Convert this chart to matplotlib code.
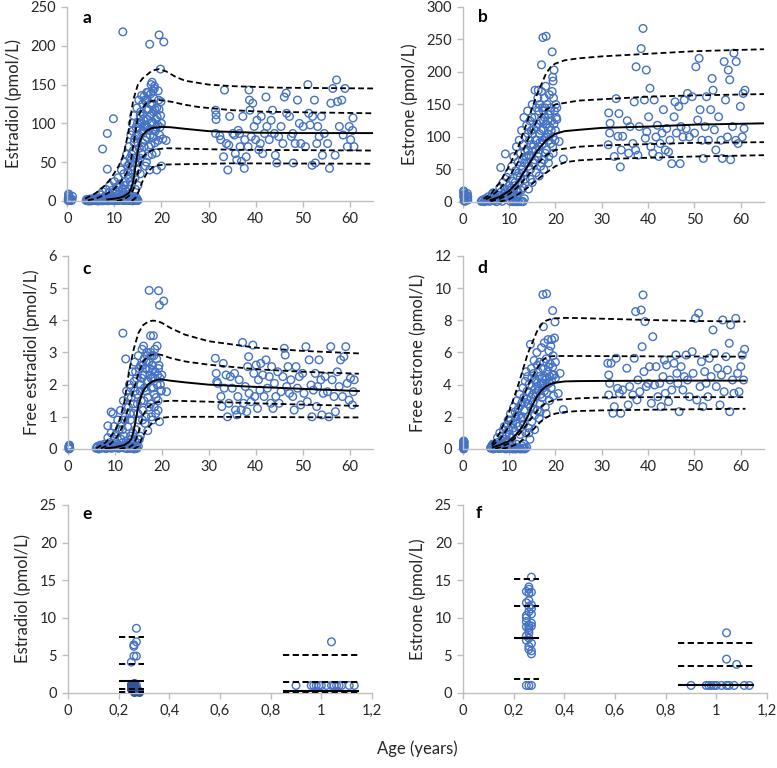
import matplotlib
matplotlib.use("Agg")
import matplotlib.pyplot as plt

plt.rcParams['font.family'] = ['Lato', 'DejaVu Sans']

BLUE = '#4472C4'
GREY = '#BFBFBF'
TXT = '#262626'

# ---------------- panel a: estradiol ----------------
a_inf = [(0.2, 3), (0.3, 8), (0.3, 6), (0.4, 1), (1.0, 2), (1.1, 6), (0.9, 0.5), (0.2, 0.5), (0.5, 4), (0.3, 9)]
a_pub = [(4.0, 0.5), (4.3, 1), (4.7, 0.3), (5.0, 1.5), (5.3, 0.5), (5.6, 2), (6.0, 1), (6.2, 0.3), (6.5, 2.5), (6.8, 1),
         (7.1, 0.5), (7.4, 3), (7.7, 1), (8.0, 2), (8.3, 0.5), (8.6, 4), (8.9, 1.5), (9.2, 3), (9.5, 0.8), (9.8, 5),
         (10.1, 2), (10.4, 0.5), (10.7, 3), (11.0, 1), (11.3, 6), (11.6, 2), (11.9, 0.5), (12.2, 4), (12.5, 1), (12.8, 3),
         (13.1, 0.5), (13.4, 2), (13.7, 1), (14.0, 0.5), (14.3, 3), (14.6, 1), (14.9, 0.5),
         (7, 8), (7.5, 12), (8, 6), (8.2, 15), (8.8, 10), (9, 20), (9.3, 8), (9.6, 14), (10, 25), (10.2, 12), (10.5, 18),
         (10.8, 30), (11, 8), (11.2, 22), (11.5, 40), (11.7, 15), (12, 35), (12.2, 50), (12.4, 25), (12.6, 60), (12.8, 45),
         (13, 30), (13.1, 70), (13.3, 55), (13.5, 85), (13.6, 40), (13.8, 100), (14, 65), (14.1, 110), (14.3, 80), (14.4, 30),
         (14.6, 95), (14.8, 120), (15, 75), (15.1, 50), (15.2, 130), (15.4, 100), (15.5, 35), (15.6, 115), (15.8, 88),
         (16, 125), (16, 60), (16.2, 105), (16.3, 135), (16.5, 78), (16.6, 45), (16.8, 118), (17, 95), (17, 130), (17.2, 140),
         (17.3, 70), (17.5, 110), (17.6, 85), (17.8, 150), (17.9, 100), (18, 125), (18, 60), (18.2, 92), (18.3, 115),
         (18.5, 145), (18.6, 75), (18.8, 105), (19, 120), (19, 40), (19.2, 98), (19.4, 130), (19.6, 85), (19.8, 110),
         (20, 100), (20.3, 80), (21, 78), (20, 45), (16.5, 130), (15.8, 136), (17.3, 118), (18.7, 90), (16.1, 90),
         (14.9, 100), (13.9, 90), (13, 15), (12, 10), (11, 18), (14.5, 15), (15, 20), (15.5, 55), (16.8, 50), (17.5, 40),
         (11.8, 218), (17.5, 202), (19.5, 214), (20.5, 205), (19.8, 170), (9.8, 106), (8.5, 87), (7.5, 67), (8.5, 41),
         (18.2, 142), (19.3, 142), (18, 153), (18.5, 148)]
a_pub2 = [(4.1, 2), (4.5, 0), (4.8, 2.5), (5.1, 0.2), (5.4, 3), (5.7, 0.8), (5.9, 2), (6.1, 4), (6.3, 1.2), (6.6, 0),
          (6.9, 3.5), (7.2, 1.5), (7.5, 0.2), (7.8, 4), (8.1, 1), (8.4, 2.8), (8.7, 0.3), (9, 5), (9.3, 1.8), (9.6, 3.5),
          (9.9, 0.3), (10.2, 6), (10.5, 2.5), (10.8, 0.8), (11.1, 4), (11.4, 1.5), (11.7, 8), (12, 2.5), (12.3, 0.8),
          (12.6, 5), (12.9, 1.5), (13.2, 9), (13.5, 4), (13.8, 0.3), (14.1, 6), (14.4, 1.5), (14.7, 4), (15, 1),
          (12.1, 20), (12.5, 12), (12.9, 38), (13.2, 48), (13.4, 25), (13.7, 60), (13.9, 35), (14.2, 75), (14.5, 55),
          (14.7, 85), (14.9, 40), (15.1, 95), (15.3, 68), (15.5, 110), (15.7, 62), (15.9, 100), (16.1, 112), (16.3, 70),
          (16.4, 95), (16.7, 128), (16.9, 82), (17.1, 105), (17.4, 92), (17.6, 125), (17.8, 72), (17.9, 112), (18.1, 102),
          (18.3, 82), (18.4, 132), (18.6, 118), (18.9, 95), (19.1, 108), (19.3, 78), (19.5, 118), (19.7, 95), (19.9, 128),
          (15.2, 85), (16.6, 98), (17.2, 58), (18.9, 62), (16, 75), (14.4, 50), (13.6, 20), (17.7, 138), (16.9, 140)]
a_adult = [(31.5, 117), (31.6, 111), (31.6, 105), (31.5, 87), (32.4, 84), (32.6, 79), (33.4, 143), (33.2, 57), (33.8, 74),
           (34.1, 40), (34.3, 72), (34.5, 109), (35.2, 87), (35.5, 85), (35.7, 61), (36, 53), (36.3, 91), (36.6, 87),
           (36.7, 70), (37, 51), (37.3, 109), (37.6, 42), (37.7, 79), (38, 57), (38.4, 70), (38.6, 143), (38.7, 130),
           (38.8, 117), (39.1, 83), (39.4, 126), (39.7, 96), (40, 79), (40.3, 104), (40.7, 66), (41, 74), (41.2, 109),
           (41.5, 61), (41.9, 87), (42.2, 134), (42.4, 96), (42.9, 79), (43.3, 104), (43.6, 117), (44, 87), (44.2, 59),
           (44.5, 49), (44.9, 83), (45.4, 96), (45.8, 74), (46.1, 134), (46.5, 139), (46.6, 113), (47.2, 109), (47.6, 83),
           (48, 49), (48.4, 74), (48.9, 130), (49.3, 100), (49.6, 74), (50.1, 96), (50.6, 70), (51.1, 150), (51.3, 113),
           (51.6, 98), (52, 46), (52.5, 130), (52.7, 49), (53, 74), (53.2, 96), (53.5, 83), (54, 109), (54.2, 59),
           (54.6, 87), (55.7, 42), (56, 126), (56.4, 145), (56.9, 59), (57.2, 156), (57.4, 128), (57.8, 96), (58.3, 130),
           (58.6, 85), (59, 145), (59.5, 70), (59.9, 96), (60.2, 79), (60.6, 91), (60.7, 107), (60.9, 70), (55.3, 74),
           (52.1, 109), (47.9, 87)]
a_p50 = ([8.5, 10, 11, 12, 13, 13.5, 14, 14.5, 15, 15.5, 16, 17, 18, 20, 22, 25, 30, 40, 50, 65],
         [2, 3, 4, 6, 10, 15, 25, 45, 65, 78, 85, 91, 94, 95.5, 95, 93, 90, 88, 87.5, 87.5])
a_p975 = ([3.8, 6, 8, 9, 10, 11, 12, 13, 14, 15, 16, 17, 18, 19.5, 21, 23, 25, 30, 35, 45, 65],
          [3, 10, 20, 27, 36, 46, 60, 90, 130, 150, 158, 163, 168, 170, 167, 160, 155, 150, 148, 146, 145])
a_p90 = ([4.4, 6, 8, 9.7, 11, 12.6, 13.5, 14, 14.5, 15, 16, 16.8, 18, 19.6, 22, 25, 28, 35, 42, 65],
         [1, 3, 8, 14, 22, 36, 52, 70, 90, 108, 120, 126, 129, 130, 128, 124, 121, 117, 115, 113])
a_p10 = ([10.5, 12, 13, 14, 14.5, 15, 15.5, 16.1, 17, 18.2, 21, 35, 65],
         [0, 2, 6, 14, 24, 36, 48, 57, 62, 66, 68, 66, 65])
a_p025 = ([13.7, 14.5, 15, 15.5, 16.1, 17, 18.2, 19, 21, 35, 65],
          [0, 4, 10, 18, 27, 37, 44, 46, 47, 48.5, 48])

# ---------------- panel b: estrone ----------------
b_inf = [(0.2, 15), (0.3, 12), (0.2, 8), (0.4, 5), (0.3, 2), (0.9, 10), (1.0, 6), (1.1, 3), (0.5, 1), (0.2, 17), (1.0, 13),
         (0.3, 10), (1.1, 8)]
b_pub = [(4.0, 1), (4.3, 3), (4.6, 0.5), (4.9, 5), (5.2, 2), (5.5, 8), (5.8, 1), (6.1, 4), (6.4, 12), (6.7, 2), (7.0, 6),
         (7.3, 0.5), (7.6, 10), (7.9, 3), (8.2, 15), (8.5, 1), (8.8, 7), (9.1, 20), (9.4, 4), (9.7, 12), (10.0, 25),
         (10.3, 1), (10.6, 9), (10.9, 0.5), (11.2, 2), (11.5, 0.5), (12.0, 1), (12.5, 0.5), (13.0, 0.5),
         (6.5, 14), (8.0, 22), (8.7, 30), (9.5, 38), (10, 45), (10.3, 18), (10.6, 55), (10.8, 32), (11, 70), (11.2, 25),
         (11.4, 48), (11.6, 85), (11.8, 40), (12, 62), (12.2, 95), (12.3, 30), (12.5, 75), (12.7, 110), (12.8, 50),
         (13, 88), (13.2, 130), (13.3, 60), (13.5, 100), (13.6, 42), (13.8, 118), (14, 80), (14, 140), (14.2, 55),
         (14.4, 95), (14.5, 125), (14.6, 35), (14.8, 70), (15, 150), (15, 105), (15.2, 60), (15.3, 88), (15.5, 130),
         (15.6, 172), (15.8, 45), (15.9, 115), (16, 95), (16.2, 160), (16.3, 75), (16.4, 140), (16.6, 105), (16.8, 55),
         (16.8, 125), (17, 170), (17.1, 88), (17.2, 145), (17.3, 112), (17.5, 65), (17.6, 160), (17.7, 130), (17.8, 98),
         (17.9, 178), (18, 120), (18.1, 80), (18.2, 150), (18.3, 105), (18.5, 135), (18.6, 70), (18.7, 165), (18.8, 115),
         (19, 90), (19, 145), (19.2, 125), (19.3, 170), (19.5, 100), (19.6, 160), (19.8, 140), (20, 110), (20.1, 150),
         (20.3, 145), (14.2, 20), (15, 30), (13, 22), (12, 15), (16.5, 40), (17.5, 50), (18.5, 60), (19.5, 75), (11, 12),
         (15.8, 80), (16.7, 92), (17.4, 140), (14.8, 110), (13.7, 70),
         (17.3, 253), (18.0, 255), (19.3, 231), (17.0, 211), (19.7, 203), (19.4, 192), (19.5, 186), (9.2, 74), (8.2, 53),
         (20.3, 127), (20.8, 93), (21.7, 66), (16.3, 172)]
b_pub2 = [(4.2, 2), (4.8, 1), (5.3, 4), (5.9, 3), (6.2, 7), (6.8, 9), (7.1, 3), (7.7, 5), (8.3, 9), (8.9, 13), (9.2, 8),
          (9.8, 18), (10.1, 10), (10.5, 22), (10.9, 15), (11.3, 30), (11.7, 20), (12.1, 45), (12.4, 38), (12.9, 65),
          (13.1, 45), (13.4, 78), (13.9, 60), (14.1, 105), (14.3, 72), (14.7, 88), (14.9, 130), (15.1, 78), (15.4, 112),
          (15.7, 95), (15.9, 145), (16.1, 120), (16.4, 85), (16.6, 150), (16.9, 110), (17.2, 95), (17.4, 125), (17.7, 145),
          (17.8, 75), (18.1, 100), (18.4, 125), (18.6, 95), (18.9, 140), (19.1, 110), (19.4, 85), (19.7, 120), (19.9, 95),
          (20.2, 130), (15.5, 65), (16.2, 70), (17, 60), (14.6, 50), (13.4, 35), (12.6, 18), (11.6, 8), (10.8, 3),
          (12.8, 1), (11.9, 0.5), (13.3, 5)]
b_adult = [(31.5, 137), (31.7, 106), (31.4, 88), (31.8, 121), (32.7, 70), (33.1, 159), (33.5, 101), (33.7, 136), (34, 54),
           (34.2, 80), (34.5, 101), (35.5, 125), (35.8, 75), (36.1, 116), (36.7, 90), (37, 154), (37.3, 80), (37.4, 208),
           (37.8, 72), (38.1, 116), (38.5, 236), (38.9, 267), (39.2, 157), (39.4, 98), (39.6, 203), (39.7, 108),
           (40.1, 131), (40.4, 175), (40.6, 85), (41, 75), (41.3, 157), (41.7, 100), (42, 118), (42.3, 70), (42.6, 90),
           (43, 106), (43.3, 142), (43.7, 80), (44, 113), (44.4, 77), (44.7, 95), (45.1, 59), (45.6, 131), (45.8, 154),
           (46.1, 106), (46.6, 147), (46.9, 59), (47.1, 116), (47.5, 100), (47.8, 157), (48.2, 113), (48.5, 167),
           (48.9, 100), (49.5, 162), (50, 106), (50.3, 208), (50.7, 126), (51, 221), (51.2, 142), (51.6, 95), (51.9, 67),
           (52.3, 116), (52.6, 162), (53, 95), (53.5, 142), (53.8, 190), (54, 172), (54.3, 111), (54.6, 80), (55.2, 131),
           (55.7, 95), (56, 67), (56.4, 216), (56.7, 157), (57.1, 100), (57.3, 203), (57.6, 188), (57.8, 65), (58.2, 116),
           (58.5, 229), (58.9, 95), (59, 216), (59.4, 90), (59.9, 147), (60.3, 100), (60.5, 167), (60.7, 113), (60.9, 172)]
b_p50 = ([6, 8, 10, 12, 14, 16, 18, 20, 22, 25, 30, 40, 50, 65],
         [3, 8, 17, 32, 55, 78, 95, 105, 109, 111, 114, 116, 119, 121])
b_p975 = ([4.5, 6, 8, 10, 12, 14, 16, 18, 19, 20, 22, 25, 30, 40, 50, 65],
          [5, 12, 30, 55, 85, 125, 165, 198, 208, 213, 218, 221, 224, 228, 232, 235])
b_p90 = ([5, 6, 8, 10, 12, 14, 16, 18, 20, 25, 30, 40, 50, 65],
         [4, 8, 20, 38, 62, 95, 125, 142, 150, 156, 158, 162, 164, 166])
b_p10 = ([6, 8, 10, 12, 14, 16, 18, 20, 25, 30, 40, 50, 65],
         [1, 5, 12, 24, 40, 58, 72, 80, 85, 87, 89, 91, 92])
b_p025 = ([8, 10, 12, 14, 16, 18, 20, 22, 25, 30, 40, 50, 65],
          [0.5, 4, 12, 22, 34, 45, 55, 61, 64, 66, 68, 70, 72])

# ---------------- panel c: free estradiol ----------------
c_inf = [(0.2, 0.05), (0.3, 0.1), (0.2, 0.0), (0.4, 0.02), (0.3, 0.12), (0.2, 0.08)]
c_pub = [(6.0, 0.02), (6.3, 0.08), (6.6, 0.0), (6.9, 0.12), (7.2, 0.03), (7.5, 0.06), (7.8, 0.15), (8.1, 0.01), (8.4, 0.1),
         (8.7, 0.04), (9.0, 0.2), (9.3, 0.02), (9.6, 0.08), (9.9, 0.3), (10.2, 0.05), (10.5, 0.15), (10.8, 0.02),
         (11.1, 0.1), (11.4, 0.05), (11.7, 0.2), (12.0, 0.03), (12.3, 0.12), (12.6, 0.01), (12.9, 0.06), (13.2, 0.02),
         (13.5, 0.1), (13.8, 0.03), (14.1, 0.0), (14.4, 0.05), (14.7, 0.02), (15.0, 0.08),
         (8.5, 0.35), (9.2, 0.5), (9.8, 0.7), (10.2, 0.45), (10.6, 0.9), (10.9, 0.6), (11.2, 1.2), (11.5, 0.8), (11.8, 1.5),
         (12, 0.4), (12.2, 1.0), (12.5, 1.8), (12.7, 0.7), (12.9, 1.3), (13.1, 2.0), (13.3, 0.9), (13.5, 1.6), (13.7, 2.4),
         (13.8, 0.5), (14, 1.1), (14.2, 2.7), (14.3, 1.8), (14.5, 0.6), (14.6, 2.2), (14.8, 1.4), (15, 2.9), (15.1, 0.9),
         (15.3, 2.0), (15.5, 2.6), (15.6, 1.5), (15.8, 3.1), (15.9, 2.3), (16, 1.2), (16.2, 2.8), (16.3, 1.9), (16.5, 2.5),
         (16.6, 1.0), (16.8, 3.0), (16.9, 2.1), (17, 1.6), (17.2, 2.7), (17.3, 1.3), (17.5, 2.3), (17.6, 3.0), (17.8, 1.9),
         (17.9, 2.6), (18, 0.9), (18.1, 2.2), (18.3, 2.9), (18.4, 1.7), (18.6, 2.4), (18.7, 1.1), (18.9, 2.8), (19, 2.0),
         (19.2, 1.5), (19.3, 2.5), (19.5, 0.85), (19.6, 2.2), (19.8, 1.8), (20, 2.3), (16.4, 0.8), (15.4, 0.4),
         (14.9, 0.3), (17.8, 1.0), (16.1, 3.2), (18.5, 3.1), (13.5, 0.3),
         (11.7, 3.6), (17.3, 4.93), (19.3, 4.92), (19.5, 4.47), (20.4, 4.6), (17.6, 3.52), (18.2, 3.52), (12.3, 2.8),
         (19.0, 3.2), (9.2, 1.15), (9.6, 1.1), (8.5, 0.72), (17.0, 0.57), (21, 1.78), (19.9, 1.82)]
c_pub2 = [(6.2, 0.05), (6.8, 0.02), (7.4, 0.1), (8, 0.05), (8.6, 0.15), (9.1, 0.05), (9.7, 0.12), (10.3, 0.2), (10.7, 0.05),
          (11.3, 0.3), (11.9, 0.1), (12.4, 0.25), (12.8, 0.1), (13.3, 0.4), (13.6, 0.15), (14.2, 0.25), (14.6, 0.1),
          (15.2, 0.3), (11.6, 0.6), (12.1, 0.9), (12.4, 1.3), (12.8, 1.6), (13.2, 1.1), (13.4, 1.9), (13.9, 1.4),
          (14.1, 2.1), (14.4, 2.4), (14.7, 1.7), (15.2, 2.5), (15.4, 1.8), (15.7, 2.2), (16, 2.6), (16.3, 2.3), (16.6, 1.8),
          (16.7, 2.7), (17.1, 2.1), (17.4, 2.5), (17.7, 2.2), (18, 2.6), (18.2, 1.9), (18.5, 2.2), (18.8, 1.6), (19.1, 2.3),
          (19.4, 2.6), (19.7, 2.0), (16.2, 1.5), (17.6, 1.4), (18.4, 1.3), (15.9, 0.9), (14.9, 1.1), (19.2, 1.2),
          (16.9, 2.9), (17.9, 2.9), (18.1, 2.45), (15.5, 2.0)]
c_adult = [(31.4, 2.82), (31.6, 2.35), (31.7, 2.09), (31.9, 2.04), (32.6, 1.63), (32.8, 1.32), (33.1, 2.66), (33.3, 1.89),
           (33.7, 2.3), (34, 1.0), (34.3, 1.42), (34.6, 2.25), (35, 1.89), (35.5, 2.35), (35.7, 1.21), (36, 1.06),
           (36.2, 1.63), (36.5, 2.15), (36.9, 1.21), (37.2, 3.31), (37.4, 1.42), (37.8, 1.94), (38.1, 1.16), (38.3, 2.56),
           (38.5, 2.87), (38.6, 1.73), (39, 1.47), (39.4, 3.23), (39.6, 2.35), (39.8, 1.63), (40.1, 2.61), (40.4, 1.26),
           (40.6, 2.15), (40.9, 1.83), (41.1, 2.66), (41.5, 2.3), (41.8, 1.63), (42.2, 2.77), (42.5, 1.89), (42.9, 2.25),
           (43.2, 1.42), (43.4, 2.56), (43.7, 1.26), (44, 2.04), (44.3, 1.63), (44.7, 2.4), (45, 1.42), (45.4, 1.78),
           (45.8, 2.25), (46.1, 3.13), (46.3, 2.92), (46.6, 1.94), (46.9, 2.56), (47.2, 1.73), (47.5, 2.15), (47.9, 1.63),
           (48.2, 1.21), (48.6, 2.56), (48.9, 1.89), (49.3, 2.25), (49.6, 1.37), (50, 2.35), (50.3, 1.73), (50.7, 3.18),
           (51, 1.47), (51.4, 2.77), (51.8, 1.99), (52, 1.0), (52.3, 1.83), (52.7, 2.35), (53, 1.32), (53.2, 1.94),
           (53.5, 2.77), (53.9, 2.15), (54.1, 1.06), (54.4, 1.73), (54.8, 2.25), (55.3, 1.78), (55.6, 1.0), (56, 3.18),
           (56.3, 2.15), (56.7, 1.63), (57, 1.16), (57.4, 2.4), (57.8, 1.94), (58.1, 2.77), (58.5, 1.63), (58.8, 2.87),
           (59.2, 3.18), (59.5, 2.04), (59.9, 1.52), (60.2, 2.2), (60.6, 1.37), (60.8, 1.78), (61, 2.15)]
c_p50 = ([8, 10, 12, 13, 13.5, 14, 14.5, 15, 15.5, 16, 17, 18, 19, 20, 22, 25, 30, 40, 50, 62],
         [0.02, 0.05, 0.12, 0.22, 0.32, 0.55, 0.95, 1.35, 1.6, 1.8, 2.0, 2.1, 2.15, 2.16, 2.12, 2.07, 2.0, 1.93, 1.87, 1.8])
c_p975 = ([6, 8, 10, 11, 12, 13, 14, 15, 16, 17, 18, 19, 20, 22, 25, 30, 35, 40, 50, 62],
          [0.02, 0.2, 0.55, 0.9, 1.45, 2.4, 3.1, 3.6, 3.85, 3.95, 3.99, 3.98, 3.92, 3.75, 3.55, 3.35, 3.25, 3.15, 3.05, 2.97])
c_p90 = ([7, 9, 10, 11, 12, 13, 14, 15, 16, 17, 18, 19, 20, 22, 25, 30, 40, 50, 62],
         [0.02, 0.15, 0.3, 0.5, 0.85, 1.35, 1.85, 2.35, 2.72, 2.88, 2.94, 2.95, 2.92, 2.82, 2.72, 2.62, 2.48, 2.4, 2.34])
c_p10 = ([11, 13, 14, 14.5, 15, 15.5, 16, 17, 18, 20, 22, 25, 30, 40, 50, 62],
         [0.01, 0.05, 0.15, 0.3, 0.5, 0.8, 1.05, 1.3, 1.42, 1.48, 1.5, 1.49, 1.47, 1.42, 1.38, 1.34])
c_p025 = ([14, 15, 15.5, 16, 17, 18, 19, 20, 22, 30, 45, 62],
          [0.0, 0.08, 0.25, 0.42, 0.65, 0.82, 0.92, 0.97, 1.0, 1.0, 0.99, 0.98])

# ---------------- panel d: free estrone ----------------
d_inf = [(0.2, 0.0), (0.2, 0.1), (0.3, 0.2), (0.2, 0.3), (0.3, 0.4), (0.2, 0.5), (0.3, 0.05), (0.25, 0.15), (0.25, 0.35),
         (0.3, 0.45), (0.2, 0.25)]
d_pub = [(6.0, 0.05), (6.3, 0.2), (6.6, 0.0), (6.9, 0.3), (7.2, 0.1), (7.5, 0.4), (7.8, 0.02), (8.1, 0.15), (8.4, 0.5),
         (8.7, 0.05), (9.0, 0.25), (9.3, 0.0), (9.6, 0.1), (9.9, 0.4), (10.2, 0.02), (10.5, 0.2), (10.8, 0.0), (11.1, 0.05),
         (11.4, 0.0), (11.7, 0.1), (12, 0.02), (12.5, 0.0), (13, 0.05), (13.5, 0.02),
         (7.5, 0.7), (8, 1.0), (8.5, 0.8), (9, 1.4), (9.4, 0.9), (9.8, 1.8), (10, 1.2), (10.3, 2.2), (10.5, 0.7), (10.8, 1.6),
         (11, 2.6), (11.2, 1.1), (11.5, 2.0), (11.7, 3.0), (11.9, 1.4), (12, 2.5), (12.3, 3.4), (12.4, 0.9), (12.6, 1.9),
         (12.8, 2.9), (13, 3.8), (13.1, 1.5), (13.3, 2.4), (13.5, 4.2), (13.6, 1.0), (13.8, 3.1), (14, 2.0), (14, 4.5),
         (14.2, 1.3), (14.4, 3.5), (14.6, 2.6), (14.8, 5.0), (14.9, 1.7), (15, 3.9), (15.2, 2.9), (15.4, 5.5), (15.5, 2.1),
         (15.7, 4.3), (15.8, 3.3), (16, 6.0), (16.1, 2.4), (16.3, 4.8), (16.4, 3.6), (16.6, 5.4), (16.7, 2.8), (16.9, 4.1),
         (17, 6.3), (17.1, 3.2), (17.3, 5.0), (17.4, 3.8), (17.6, 6.6), (17.7, 4.5), (17.8, 2.6), (18, 5.6), (18.1, 3.5),
         (18.3, 4.8), (18.4, 6.8), (18.6, 4.1), (18.7, 3.0), (18.9, 5.3), (19, 6.4), (19.1, 3.8), (19.3, 4.6), (19.5, 5.8),
         (19.6, 3.3), (19.8, 6.9), (20, 4.4), (20, 5.4), (14.5, 0.6), (13.2, 0.3), (15.5, 1.2), (16.5, 1.9), (18, 2.2),
         (17.3, 9.6), (18.1, 9.65), (19.4, 8.6), (17.4, 7.6), (19.9, 7.9), (14.6, 6.5), (13.7, 4.8), (21, 4.7),
         (20.6, 3.45), (21.7, 2.45)]
d_pub2 = [(6.1, 0.1), (6.5, 0.3), (7, 0.05), (7.3, 0.2), (7.7, 0.25), (8.2, 0.05), (8.6, 0.3), (9.1, 0.1), (9.5, 0.5),
          (10.1, 0.2), (10.6, 0.4), (11, 0.1), (11.6, 0.3), (12.2, 0.05), (12.8, 0.2), (13.2, 0.0), (13.8, 0.1),
          (8.8, 1.2), (9.2, 0.6), (9.6, 1.5), (10.1, 0.9), (10.4, 1.8), (10.9, 1.3), (11.3, 2.3), (11.6, 1.6), (12.1, 2.1),
          (12.5, 2.7), (12.9, 2.0), (13.2, 3.2), (13.4, 2.9), (13.9, 3.6), (14.1, 2.8), (14.3, 4.0), (14.7, 3.2), (14.9, 4.4),
          (15.1, 3.4), (15.3, 4.7), (15.6, 3.7), (15.9, 4.2), (16.2, 3.9), (16.5, 4.5), (16.8, 3.4), (17.1, 4.4), (17.3, 4.1),
          (17.6, 3.6), (17.9, 4.3), (18.2, 4.0), (18.5, 5.1), (18.8, 4.5), (19.2, 4.2), (19.4, 5.1), (19.7, 4.6), (17.5, 5.4),
          (16.1, 5.2), (18.6, 6.1), (19.2, 6.8), (15.2, 2.5), (16.7, 2.3), (14.3, 1.0)]
d_adult = [(31.3, 5.33), (31.5, 4.6), (31.7, 4.08), (31.5, 3.36), (32, 5.33), (32.4, 2.22), (32.7, 2.63), (33.1, 5.64),
           (33.4, 3.77), (33.8, 3.46), (34.1, 2.22), (34.5, 3.67), (35.4, 5.02), (35.7, 2.74), (36, 3.88), (36.7, 3.36),
           (37, 5.64), (37.3, 8.54), (37.6, 3.05), (37.8, 4.29), (38.2, 3.56), (38.5, 8.64), (38.7, 6.36), (38.9, 9.58),
           (39.1, 4.81), (39.3, 7.92), (39.6, 3.88), (40, 4.08), (40.3, 5.12), (40.7, 2.84), (41, 6.98), (41.4, 3.98),
           (41.7, 5.12), (42.1, 3.25), (42.5, 4.08), (42.8, 2.63), (43.2, 4.5), (43.5, 5.53), (43.7, 3.46), (44, 5.22),
           (44.4, 2.94), (44.7, 4.29), (45.1, 3.67), (45.6, 5.33), (46, 5.84), (46.2, 4.7), (46.4, 4.08), (46.7, 2.32),
           (47.1, 5.12), (47.5, 3.67), (47.8, 4.5), (48.2, 5.84), (48.5, 4.29), (48.9, 3.25), (49.5, 6.05), (49.7, 4.7),
           (50.2, 8.12), (50.5, 3.05), (50.9, 8.44), (51.2, 3.88), (51.5, 5.43), (51.8, 2.63), (52.2, 4.81), (52.5, 4.08),
           (52.9, 3.25), (53.2, 5.64), (53.6, 4.5), (54, 7.4), (54.3, 5.95), (54.7, 3.88), (55, 5.02), (55.5, 2.74),
           (55.8, 4.6), (56.1, 8.02), (56.4, 3.56), (56.8, 5.74), (57.1, 4.91), (57.5, 6.57), (57.6, 2.32), (57.8, 7.71),
           (58.2, 4.29), (58.5, 3.46), (58.9, 8.12), (59.3, 4.7), (59.6, 3.56), (60, 5.12), (60.3, 5.84), (60.6, 4.29),
           (60.8, 6.2)]
d_p50 = ([6.5, 8, 10, 11, 12, 13, 14, 15, 16, 17, 18, 19, 20, 22, 25, 30, 40, 50, 61],
         [0.1, 0.25, 0.5, 0.75, 1.05, 1.45, 2.0, 2.7, 3.25, 3.65, 3.9, 4.05, 4.12, 4.2, 4.22, 4.23, 4.24, 4.25, 4.25])
d_p975 = ([6.3, 8, 10, 12, 14, 16, 17, 18, 19, 20, 22, 25, 30, 40, 50, 61],
          [0.3, 1.0, 2.3, 4.0, 5.9, 7.3, 7.75, 7.98, 8.08, 8.12, 8.15, 8.14, 8.1, 8.02, 7.96, 7.92])
d_p90 = ([6.3, 8, 10, 12, 14, 16, 17, 18, 19, 20, 25, 40, 61],
         [0.2, 0.6, 1.4, 2.5, 3.9, 5.0, 5.45, 5.68, 5.76, 5.78, 5.78, 5.76, 5.74])
d_p10 = ([7, 8, 10, 12, 14, 16, 17, 18, 19, 20, 25, 30, 40, 61],
         [0.02, 0.1, 0.35, 0.85, 1.6, 2.35, 2.65, 2.85, 2.97, 3.05, 3.15, 3.2, 3.22, 3.22])
d_p025 = ([8.5, 10, 12, 14, 16, 17, 18, 19, 20, 22, 25, 30, 40, 50, 61],
          [0.02, 0.1, 0.35, 0.85, 1.45, 1.75, 1.95, 2.1, 2.2, 2.3, 2.36, 2.4, 2.44, 2.47, 2.5])

# ---------------- panels e, f: infants ----------------
inf_groups = [(0.2, 0.3), (0.85, 1.15)]
e_solid = [1.64, 0.31]
e_dashed = [[7.4, 3.86, 0.49, 0.1], [5.0, 1.46, 0.1]]
e_pts = [(0.27, 8.6), (0.27, 6.8), (0.26, 6.4), (0.26, 6.2), (0.26, 4.9), (0.27, 4.9), (0.25, 4.1), (0.27, 1.0),
         (1.04, 6.8), (0.90, 1.0), (0.96, 1.0), (0.97, 1.0), (0.98, 1.0), (0.99, 1.0), (1.0, 1.0), (1.02, 1.0),
         (1.04, 1.0), (1.05, 1.0), (1.06, 1.0), (1.07, 1.0), (1.08, 1.0), (1.11, 1.0), (1.13, 1.0)]
e_dense = [(0.25, 1.2), (0.26, 1.1), (0.25, 0.9), (0.26, 0.8), (0.27, 0.7), (0.26, 0.6), (0.25, 0.5), (0.27, 0.4),
           (0.26, 0.3), (0.27, 0.2), (0.28, 0.1), (0.26, 0.1), (0.27, 0.5), (0.25, 0.7), (0.28, 0.3), (0.26, 1.3)]
f_solid = [7.3, 1.06]
f_dashed = [[15.2, 11.5, 1.9], [6.6, 3.6]]
f_pts = [(0.27, 15.4), (0.26, 14.1), (0.26, 13.8), (0.25, 13.5), (0.27, 13.4), (0.26, 13.3), (0.26, 12.3), (0.25, 12.0),
         (0.27, 11.7), (0.26, 11.5), (0.27, 11.2), (0.26, 10.8), (0.27, 10.5), (0.25, 10.3), (0.25, 10.0), (0.25, 9.5),
         (0.27, 9.3), (0.26, 9.0), (0.27, 8.9), (0.25, 8.8), (0.26, 8.7), (0.26, 8.4), (0.26, 8.0), (0.25, 7.6),
         (0.26, 7.3), (0.25, 7.0), (0.27, 6.6), (0.26, 6.2), (0.26, 5.8), (0.27, 5.6), (0.27, 5.2), (0.25, 1.0),
         (0.26, 1.0), (0.27, 1.0),
         (1.04, 8.0), (1.04, 4.5), (1.08, 3.8), (0.90, 1.0), (0.96, 1.0), (0.97, 1.0), (0.98, 1.0), (0.99, 1.0),
         (1.0, 1.0), (1.02, 1.0), (1.04, 1.0), (1.05, 1.0), (1.07, 1.0), (1.11, 1.0), (1.13, 1.0)]


def style(ax, xlim, xticks, xlabels, ylim, yticks, ylabel, letter, lx, ly):
    ax.set_xlim(*xlim)
    ax.set_ylim(*ylim)
    ax.set_xticks(xticks)
    ax.set_xticklabels(xlabels)
    ax.set_yticks(yticks)
    ax.set_yticklabels([str(t) for t in yticks])
    for s in ['top', 'right']:
        ax.spines[s].set_visible(False)
    for s in ['left', 'bottom']:
        ax.spines[s].set_color(GREY)
        ax.spines[s].set_linewidth(1.0)
    ax.tick_params(axis='both', direction='out', length=4, width=1, color=GREY,
                   labelsize=10.5, labelcolor=TXT, pad=4)
    ax.set_ylabel(ylabel, fontsize=12, color=TXT, labelpad=6)
    ax.text(lx, ly, letter, transform=ax.transAxes, fontsize=12.5, fontweight='bold',
            color='black', ha='center', va='center')
    ax.patch.set_alpha(0)


def scatter(ax, pts):
    ax.scatter([p[0] for p in pts], [p[1] for p in pts], s=30, facecolors='none',
               edgecolors=BLUE, linewidths=1.0, zorder=2, clip_on=False)


def curves(ax, p50, dashed):
    for c in dashed:
        ax.plot(c[0], c[1], color='black', lw=1.3, ls=(0, (3.2, 1.8)), zorder=3)
    ax.plot(p50[0], p50[1], color='black', lw=1.4, zorder=3)


fig = plt.figure(figsize=(7.77, 7.68), dpi=100)
fig.patch.set_facecolor('white')

ax_a = fig.add_axes([0.0866, 0.7383, 0.3938, 0.2526])
ax_b = fig.add_axes([0.5955, 0.7370, 0.3878, 0.2539])
ax_c = fig.add_axes([0.0875, 0.4154, 0.3925, 0.2513])
ax_d = fig.add_axes([0.5955, 0.4154, 0.3878, 0.2513])
ax_e = fig.add_axes([0.0875, 0.0977, 0.3913, 0.2448])
ax_f = fig.add_axes([0.5959, 0.0977, 0.3913, 0.2448])

big_x = [0, 10, 20, 30, 40, 50, 60]
for ax, groups, p50, dashed in [
        (ax_a, [a_inf, a_pub, a_pub2, a_adult], a_p50, [a_p975, a_p90, a_p10, a_p025]),
        (ax_b, [b_inf, b_pub, b_pub2, b_adult], b_p50, [b_p975, b_p90, b_p10, b_p025]),
        (ax_c, [c_inf, c_pub, c_pub2, c_adult], c_p50, [c_p975, c_p90, c_p10, c_p025]),
        (ax_d, [d_inf, d_pub, d_pub2, d_adult], d_p50, [d_p975, d_p90, d_p10, d_p025])]:
    for g in groups:
        scatter(ax, g)
    curves(ax, p50, dashed)

style(ax_a, (0, 65), big_x, [str(t) for t in big_x], (0, 250), [0, 50, 100, 150, 200, 250],
      'Estradiol (pmol/L)', 'a', 0.064, 0.943)
style(ax_b, (0, 65), big_x, [str(t) for t in big_x], (0, 300), [0, 50, 100, 150, 200, 250, 300],
      'Estrone (pmol/L)', 'b', 0.066, 0.95)
style(ax_c, (0, 65), big_x, [str(t) for t in big_x], (0, 6), [0, 1, 2, 3, 4, 5, 6],
      'Free estradiol (pmol/L)', 'c', 0.062, 0.933)
style(ax_d, (0, 65), big_x, [str(t) for t in big_x], (0, 12), [0, 2, 4, 6, 8, 10, 12],
      'Free estrone (pmol/L)', 'd', 0.066, 0.938)

small_x = [0, 0.2, 0.4, 0.6, 0.8, 1.0, 1.2]
small_lbl = ['0', '0,2', '0,4', '0,6', '0,8', '1', '1,2']
for ax, solid, dashed, pts in [(ax_e, e_solid, e_dashed, e_pts), (ax_f, f_solid, f_dashed, f_pts)]:
    scatter(ax, pts)
    for (x0, x1), s, ds in zip(inf_groups, solid, dashed):
        for v in ds:
            ax.hlines(v, x0, x1, colors='black', lw=1.4, linestyles=(0, (3.2, 1.8)), zorder=3)
        ax.hlines(s, x0, x1, colors='black', lw=1.5, zorder=3)
ax_e.scatter([p[0] for p in e_dense], [p[1] for p in e_dense], s=30, facecolors='#2F5597',
             edgecolors='#2F5597', linewidths=1.0, zorder=2, clip_on=False)

style(ax_e, (0, 1.2), small_x, small_lbl, (0, 25), [0, 5, 10, 15, 20, 25],
      'Estradiol (pmol/L)', 'e', 0.063, 0.952)
style(ax_f, (0, 1.2), small_x, small_lbl, (0, 25), [0, 5, 10, 15, 20, 25],
      'Estrone (pmol/L)', 'f', 0.053, 0.957)

fig.text(0.537, 0.014, 'Age (years)', fontsize=12, color=TXT, ha='center', va='bottom')

fig.savefig('out.png', dpi=100)
